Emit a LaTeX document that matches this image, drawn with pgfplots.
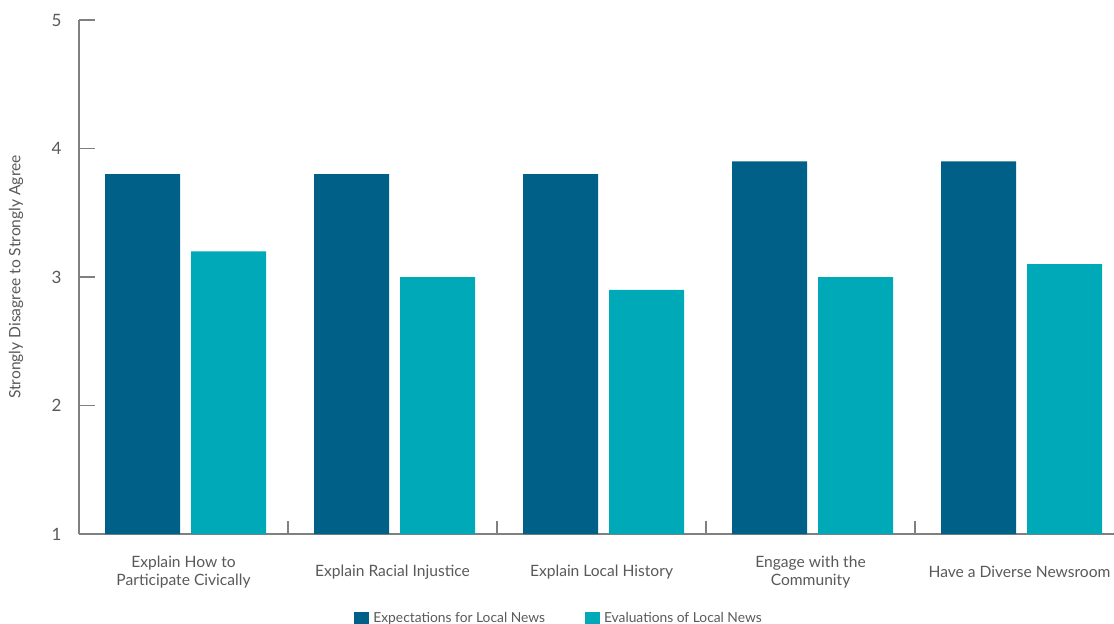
\documentclass[border=0pt]{standalone}
\usepackage{pgfplots}
\pgfplotsset{compat=1.18}
\usepackage{fontspec}
\setmainfont{Lato}
\definecolor{expc}{RGB}{0,96,135}
\definecolor{evalc}{RGB}{0,169,183}
\definecolor{axgray}{RGB}{128,128,128}
\definecolor{txtgray}{RGB}{89,89,89}

\begin{document}
\begin{tikzpicture}
\begin{axis}[
  scale only axis, width=517.5pt, height=257pt,
  ybar, bar width=37.5pt,
  xmin=-0.5, xmax=4.452, ymin=1, ymax=5,
  axis lines*=left,
  axis line style={draw=axgray, line width=0.6pt},
  ytick={1,2,3,4,5},
  ytick pos=left, xtick pos=bottom,
  tick align=inside,
  y tick style={draw=axgray, line width=0.6pt},
  major tick length=8pt,
  xtick={0,1,2,3,4},
  x tick style={draw=none},
  xticklabels={{Explain How to\\Participate Civically},{Explain Racial Injustice},{Explain Local History},{Engage with the\\Community},{Have a Diverse Newsroom}},
  x tick label style={align=center, anchor=center, yshift=-19pt, font=\fontsize{7.8pt}{9pt}\selectfont, text=txtgray},
  extra x ticks={0.5,1.5,2.5,3.5},
  extra x tick labels={},
  extra x tick style={x tick style={draw=axgray, line width=0.6pt}, major tick length=6.5pt},
  y tick label style={font=\fontsize{8.5pt}{10pt}\selectfont, text=txtgray, inner sep=0pt, xshift=-8.5pt},
  /pgf/number format/assume math mode=true,
  ylabel={Strongly Disagree to Strongly Agree},
  ylabel style={at={(axis description cs:0,0.5)}, anchor=center, yshift=31.5pt, font=\fontsize{7.8pt}{9pt}\selectfont, text=txtgray},
  legend columns=2,
  legend style={at={(axis description cs:0.2657,0)}, anchor=west, yshift=-42.5pt, draw=none, fill=none, inner sep=0pt, font=\fontsize{6.9pt}{8pt}\selectfont, text=txtgray, /tikz/every even column/.append style={column sep=18pt}},
  legend image code/.code={\fill[#1] (-3pt,-3.75pt) rectangle (4.5pt,3.75pt);},
  clip=false,
]
\addplot[fill=expc, draw=none, bar shift=-20.5pt] coordinates {(0,3.8) (1,3.8) (2,3.8) (3,3.9) (4,3.9)};
\addplot[fill=evalc, draw=none, bar shift=22.5pt] coordinates {(0,3.2) (1,3.0) (2,2.9) (3,3.0) (4,3.1)};
\legend{Expectations for Local News, Evaluations of Local News}
\end{axis}
\pgfresetboundingbox
\path[use as bounding box] (-39.5pt,-44.5pt) rectangle (517.5pt,267pt);
\end{tikzpicture}
\end{document}
